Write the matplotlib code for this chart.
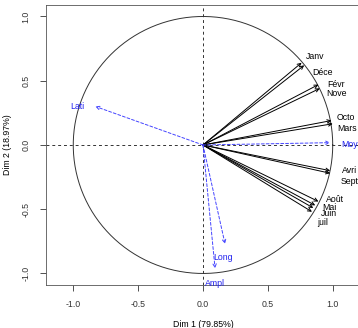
import numpy as np
import matplotlib.pyplot as plt

plt.rcParams['font.family'] = ['Liberation Sans', 'DejaVu Sans']

# active variables (months)
months = ['Janv', 'Déce', 'Févr', 'Nove', 'Octo', 'Mars', 'Avri', 'Sept',
          'Août', 'Mai', 'Juin', 'juil']
dim1 = [0.76, 0.78, 0.89, 0.90, 0.99, 1.00, 0.98, 0.98, 0.89, 0.865, 0.85, 0.84]
dim2 = [0.64, 0.62, 0.47, 0.44, 0.19, 0.165, -0.20, -0.22, -0.44, -0.47, -0.49, -0.52]

# supplementary variables
supp = ['Moye', 'Lati', 'Long', 'Ampl']
supp1 = [0.98, -0.83, 0.17, 0.093]
supp2 = [0.018, 0.30, -0.77, -0.96]

# label offsets (points)
lab_off = {'Janv': (9.5, 4.5), 'Déce': (13, -5), 'Févr': (13, 0), 'Nove': (12, -4),
           'Octo': (10, 2), 'Mars': (10, -3.5), 'Avri': (14, 0), 'Sept': (14, -6),
           'Août': (12, 1.5), 'Mai': (10.5, -1.5), 'Juin': (11, -4), 'juil': (7.5, -7.5),
           'Moye': (16, -1), 'Lati': (-13, 0), 'Long': (-1.5, -10), 'Ampl': (0, -11)}

fig = plt.figure(figsize=(3.58, 3.28), dpi=100)
ax = fig.add_axes([0.1285, 0.131, 0.877, 0.854])

t = np.linspace(0, 2 * np.pi, 400)
ax.plot(np.cos(t), np.sin(t), color='#333333', lw=0.7)
ax.axhline(0, color='#333333', lw=0.7, ls=(0, (3, 3)))
ax.axvline(0, color='#333333', lw=0.7, ls=(0, (3, 3)))

for name, x, y in zip(months, dim1, dim2):
    ax.annotate('', xy=(x, y), xytext=(0, 0),
                arrowprops=dict(arrowstyle='->', color='black', lw=0.7,
                                shrinkA=0, shrinkB=0, mutation_scale=6))
    ax.annotate(name, xy=(x, y), xytext=lab_off[name], textcoords='offset points',
                fontsize=6.3, ha='center', va='center', color='black')

for name, x, y in zip(supp, supp1, supp2):
    ax.annotate('', xy=(x, y), xytext=(0, 0),
                arrowprops=dict(arrowstyle='->', color='#4444ff', lw=0.7,
                                ls=(0, (3, 2)), shrinkA=0, shrinkB=0,
                                mutation_scale=6))
    ax.annotate(name, xy=(x, y), xytext=lab_off[name], textcoords='offset points',
                fontsize=6.3, ha='center', va='center', color='#2222ee')

ax.set_xlim(-1.21, 1.21)
ax.set_ylim(-1.09, 1.09)
ax.set_xticks([-1.0, -0.5, 0.0, 0.5, 1.0])
ax.set_yticks([-1.0, -0.5, 0.0, 0.5, 1.0])
ax.set_xticklabels(['-1.0', '-0.5', '0.0', '0.5', '1.0'])
ax.set_yticklabels(['-1.0', '-0.5', '0.0', '0.5', '1.0'], rotation=90, va='center')
ax.tick_params(labelsize=6.3, length=4, width=0.6, pad=7, colors='#333333')
for s in ax.spines.values():
    s.set_linewidth(0.6)
    s.set_color('#555555')
ax.set_xlabel('Dim 1 (79.85%)', fontsize=6.3, labelpad=8)
ax.set_ylabel('Dim 2 (18.97%)', fontsize=6.3, labelpad=7)

fig.savefig('out.png', dpi=100)
